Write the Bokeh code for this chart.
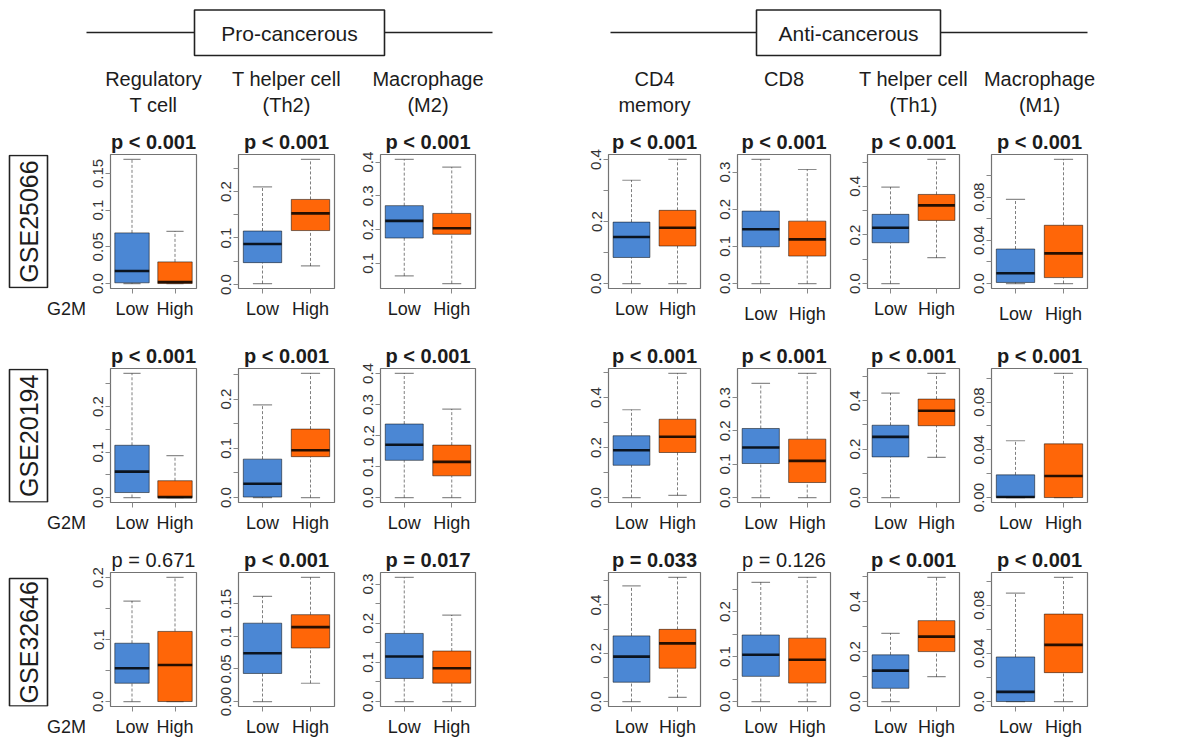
import math
from bokeh.plotting import figure
from bokeh.layouts import row, column
from bokeh.models import ColumnDataSource, FactorRange, Range1d, FixedTicker
from bokeh.transform import dodge
from bokeh.core.properties import value
from bokeh.embed import file_html
from bokeh.resources import INLINE

# ---------------- data ----------------
groups = ["Low", "High"]
group_label = "G2M"
datasets = ["GSE25066", "GSE20194", "GSE32646"]
header_line1 = ["Regulatory", "T helper cell", "Macrophage", "CD4", "CD8", "T helper cell", "Macrophage"]
header_line2 = ["T cell", "(Th2)", "(M2)", "memory", "", "(Th1)", "(M1)"]
group_names = ["Pro-cancerous", "Anti-cancerous"]

# box statistics per cell type: [lower whisker, Q1, median, Q3, upper whisker]
gse25066_low = [
    [0.0, 0.001, 0.017, 0.069, 0.169],
    [0.002, 0.047, 0.087, 0.115, 0.210],
    [0.063, 0.175, 0.226, 0.271, 0.408],
    [0.0, 0.084, 0.150, 0.198, 0.333],
    [0.0, 0.099, 0.146, 0.195, 0.334],
    [0.0, 0.168, 0.230, 0.285, 0.397],
    [0.0, 0.001, 0.0095, 0.032, 0.078],
]
gse25066_high = [
    [0.0, 0.0, 0.002, 0.0295, 0.071],
    [0.040, 0.116, 0.153, 0.183, 0.269],
    [0.040, 0.186, 0.204, 0.248, 0.385],
    [0.0, 0.121, 0.180, 0.236, 0.400],
    [0.0, 0.074, 0.119, 0.168, 0.307],
    [0.107, 0.260, 0.322, 0.367, 0.511],
    [0.0, 0.0055, 0.028, 0.054, 0.115],
]
gse20194_low = [
    [0.0, 0.011, 0.057, 0.115, 0.273],
    [0.0, 0.001, 0.028, 0.078, 0.188],
    [0.0, 0.120, 0.170, 0.237, 0.400],
    [0.0, 0.129, 0.189, 0.247, 0.351],
    [0.0, 0.102, 0.150, 0.207, 0.342],
    [0.0, 0.168, 0.251, 0.299, 0.432],
    [0.0, 0.0, 0.0005, 0.019, 0.0476],
]
gse20194_high = [
    [0.0, 0.0, 0.001, 0.037, 0.092],
    [0.0, 0.083, 0.096, 0.139, 0.252],
    [0.0, 0.070, 0.115, 0.169, 0.285],
    [0.009, 0.180, 0.243, 0.313, 0.496],
    [0.0, 0.045, 0.110, 0.175, 0.372],
    [0.166, 0.297, 0.359, 0.407, 0.513],
    [0.0, 0.0, 0.018, 0.045, 0.104],
]
gse32646_low = [
    [0.0, 0.0295, 0.0536, 0.094, 0.162],
    [0.0, 0.043, 0.074, 0.120, 0.161],
    [0.0, 0.059, 0.115, 0.174, 0.317],
    [0.0, 0.080, 0.186, 0.272, 0.479],
    [0.0, 0.056, 0.104, 0.148, 0.265],
    [0.0, 0.053, 0.124, 0.187, 0.273],
    [0.0, 0.0, 0.008, 0.037, 0.090],
]
gse32646_high = [
    [0.0, 0.0, 0.059, 0.113, 0.200],
    [0.028, 0.082, 0.114, 0.133, 0.190],
    [0.0, 0.047, 0.085, 0.129, 0.221],
    [0.017, 0.138, 0.241, 0.299, 0.514],
    [0.0, 0.041, 0.093, 0.141, 0.276],
    [0.100, 0.200, 0.260, 0.324, 0.497],
    [0.0, 0.024, 0.047, 0.0726, 0.103],
]

gse25066_p = ["p < 0.001"] * 7
gse20194_p = ["p < 0.001"] * 7
gse32646_p = ["p = 0.671", "p < 0.001", "p = 0.017", "p = 0.033", "p = 0.126", "p < 0.001", "p < 0.001"]
gse25066_bold = [True] * 7
gse20194_bold = [True] * 7
gse32646_bold = [False, True, True, True, False, True, True]

gse25066_ticks = [
    [0, 0.05, 0.1, 0.15],
    [0, 0.05, 0.1, 0.15, 0.2, 0.25],
    [0.1, 0.2, 0.3, 0.4],
    [0, 0.1, 0.2, 0.3, 0.4],
    [0, 0.1, 0.2, 0.3],
    [0, 0.1, 0.2, 0.3, 0.4, 0.5],
    [0, 0.02, 0.04, 0.06, 0.08, 0.1, 0.12],
]
gse25066_tick_labels = [
    ["0.0", "0.05", "0.1", "0.15"],
    ["0.0", "", "0.1", "", "0.2", ""],
    ["0.1", "0.2", "0.3", "0.4"],
    ["0.0", "", "0.2", "", "0.4"],
    ["0.0", "0.1", "0.2", "0.3"],
    ["0.0", "", "0.2", "", "0.4", ""],
    ["0.0", "", "0.04", "", "0.08", "", "0.12"],
]
gse20194_ticks = [
    [0, 0.05, 0.1, 0.15, 0.2, 0.25],
    [0, 0.05, 0.1, 0.15, 0.2, 0.25],
    [0, 0.1, 0.2, 0.3, 0.4],
    [0, 0.1, 0.2, 0.3, 0.4, 0.5],
    [0, 0.1, 0.2, 0.3],
    [0, 0.1, 0.2, 0.3, 0.4, 0.5],
    [0, 0.02, 0.04, 0.06, 0.08, 0.1],
]
gse20194_tick_labels = [
    ["0.0", "", "0.1", "", "0.2", ""],
    ["0.0", "", "0.1", "", "0.2", ""],
    ["0.0", "0.1", "0.2", "0.3", "0.4"],
    ["0.0", "", "0.2", "", "0.4", ""],
    ["0.0", "0.1", "0.2", "0.3"],
    ["0.0", "", "0.2", "", "0.4", ""],
    ["0.00", "", "0.04", "", "0.08", ""],
]
gse32646_ticks = [
    [0, 0.05, 0.1, 0.15, 0.2],
    [0, 0.05, 0.1, 0.15],
    [0, 0.05, 0.1, 0.15, 0.2, 0.25, 0.3],
    [0, 0.1, 0.2, 0.3, 0.4, 0.5],
    [0, 0.05, 0.1, 0.15, 0.2, 0.25],
    [0, 0.1, 0.2, 0.3, 0.4, 0.5],
    [0, 0.02, 0.04, 0.06, 0.08, 0.1],
]
gse32646_tick_labels = [
    ["0.0", "", "0.1", "", "0.2"],
    ["0.00", "0.05", "0.1", "0.15"],
    ["0.0", "", "0.1", "", "0.2", "", "0.3"],
    ["0.0", "", "0.2", "", "0.4", ""],
    ["0.0", "", "0.1", "", "0.2", ""],
    ["0.0", "", "0.2", "", "0.4", ""],
    ["0.0", "", "0.04", "", "0.08", ""],
]

rows_data = [
    (gse25066_low, gse25066_high, gse25066_p, gse25066_bold, gse25066_ticks, gse25066_tick_labels),
    (gse20194_low, gse20194_high, gse20194_p, gse20194_bold, gse20194_ticks, gse20194_tick_labels),
    (gse32646_low, gse32646_high, gse32646_p, gse32646_bold, gse32646_ticks, gse32646_tick_labels),
]

# ---------------- style / layout ----------------
FONT = "Liberation Sans"
TXT = "#1c1c1c"
BLUE = "#4b87d4"
ORANGE = "#ff6608"
LEFT_W = 86
HEADER_H = 118
FRAME_W = [86, 96, 95, 92, 93, 92, 96]
LEFT_B = [24, 38, 42, 129, 33, 33, 28]
RIGHT_B = [4, 4, 4, 4, 4, 4, 16]
FRAME_H = 134
TOP_B = [36, 36, 36]
BOT_B = [44, 34, 30]
XLAB_EXTRA = [[0, 0, 0, 0, 5, 0, 5], [0] * 7, [0] * 7]
GSE_BOX = [(37, 169), (37, 169.5), (42, 169.5)]   # in row-local pixel rows
G2M_X = 67
TOTAL_W = LEFT_W + sum(LEFT_B) + sum(FRAME_W) + sum(RIGHT_B)


def style_xaxis(xa, standoff):
    xa.major_label_text_font = FONT
    xa.major_label_text_font_size = "18px"
    xa.major_label_text_color = TXT
    xa.major_label_standoff = standoff
    xa.axis_line_color = None
    xa.major_tick_out = 5
    xa.major_tick_in = 0


def make_panel(r, c, low, high, ptxt, pbold, ticks, labels):
    lo = min(low[0], high[0])
    hi = max(low[4], high[4])
    pad = 0.04 * (hi - lo)
    p = figure(x_range=FactorRange(factors=groups), y_range=Range1d(lo - pad, hi + pad),
               frame_width=FRAME_W[c], frame_height=FRAME_H,
               min_border_left=LEFT_B[c], min_border_right=RIGHT_B[c],
               min_border_top=TOP_B[r], min_border_bottom=BOT_B[r],
               title=ptxt, output_backend="svg", toolbar_location=None,
               background_fill_color="white", border_fill_color="white")
    p.title.text_font = FONT
    p.title.text_font_size = "20px"
    p.title.text_font_style = "bold" if pbold else "normal"
    p.title.text_color = TXT
    p.title.align = "center"
    p.title.standoff = 3
    p.grid.visible = False
    p.outline_line_color = "black"
    p.outline_line_alpha = 0.55
    p.outline_line_width = 1.2

    ya = p.yaxis[0]
    ya.ticker = FixedTicker(ticks=ticks, minor_ticks=[])
    ya.major_label_overrides = {t: l for t, l in zip(ticks, labels)}
    ya.major_label_orientation = "vertical"
    ya.major_label_text_font = FONT
    ya.major_label_text_font_size = "15px"
    ya.major_label_text_color = "#333333"
    ya.major_label_standoff = 2
    ya.axis_line_color = None
    ya.major_tick_out = 5
    ya.major_tick_in = 0
    ya.major_tick_line_color = "#888888"
    ya.minor_tick_line_color = None

    xa = p.xaxis[0]
    style_xaxis(xa, 5 + XLAB_EXTRA[r][c])
    xa.major_tick_line_color = "#888888"

    src = ColumnDataSource(dict(
        g=groups,
        lw=[low[0], high[0]], q1=[low[1], high[1]], md=[low[2], high[2]],
        q3=[low[3], high[3]], uw=[low[4], high[4]], fill=[BLUE, ORANGE]))
    p.segment(x0="g", y0="q3", x1="g", y1="uw", source=src, line_color="black",
              line_alpha=0.5, line_width=1, line_dash="3 2")
    p.segment(x0="g", y0="lw", x1="g", y1="q1", source=src, line_color="black",
              line_alpha=0.5, line_width=1, line_dash="3 2")
    for col in ("uw", "lw"):
        p.segment(x0=dodge("g", -0.2, range=p.x_range), y0=col,
                  x1=dodge("g", 0.2, range=p.x_range), y1=col, source=src,
                  line_color="black", line_alpha=0.45, line_width=1.2)
    p.vbar(x="g", width=0.8, bottom="q1", top="q3", source=src, fill_color="fill",
           line_color="black", line_alpha=0.5, line_width=1)
    p.segment(x0=dodge("g", -0.4, range=p.x_range), y0="md",
              x1=dodge("g", 0.4, range=p.x_range), y1="md", source=src,
              line_color="black", line_alpha=0.85, line_width=2.6)
    return p


def label_fig(r):
    # same vertical structure as the panels, so the "G2M" axis label lines up with Low/High
    f = figure(x_range=Range1d(0, LEFT_W), y_range=Range1d(TOP_B[r] + FRAME_H, TOP_B[r]),
               frame_width=LEFT_W, frame_height=FRAME_H, min_border_left=0, min_border_right=0,
               min_border_top=TOP_B[r], min_border_bottom=BOT_B[r], title=None,
               y_axis_type=None, output_backend="svg", toolbar_location=None,
               outline_line_color=None, background_fill_color="white", border_fill_color="white")
    f.grid.visible = False
    xa = f.xaxis[0]
    xa.ticker = FixedTicker(ticks=[G2M_X], minor_ticks=[])
    xa.major_label_overrides = {G2M_X: group_label}
    style_xaxis(xa, 5)
    xa.major_tick_line_color = "white"
    xa.minor_tick_line_color = None
    t0, t1 = GSE_BOX[r]
    f.quad(left=[9], right=[47], top=[t0], bottom=[t1], fill_color=None,
           line_color="#222222", line_width=1.6)
    f.text(x=[28.5], y=[(t0 + t1) / 2], text=[datasets[r]], angle=math.pi / 2,
           text_align="center", text_baseline="middle", text_font=value(FONT),
           text_font_size=value("25px"), text_color=TXT)
    return f


# ---------------- header ----------------
hdr = figure(width=TOTAL_W, height=HEADER_H, x_range=Range1d(0, TOTAL_W),
             y_range=Range1d(HEADER_H, 0), x_axis_type=None, y_axis_type=None,
             min_border=0, title=None, output_backend="svg", toolbar_location=None,
             outline_line_color=None, background_fill_color="white", border_fill_color="white")
hdr.grid.visible = False

centers = []
x = LEFT_W
for c in range(7):
    x += LEFT_B[c]
    centers.append(x + FRAME_W[c] / 2)
    x += FRAME_W[c] + RIGHT_B[c]

hdr.text(x=centers, y=[78] * 7, text=header_line1, text_align="center", text_baseline="middle",
         text_font=value(FONT), text_font_size=value("20px"), text_color=TXT)
hdr.text(x=centers, y=[104] * 7, text=header_line2, text_align="center", text_baseline="middle",
         text_font=value(FONT), text_font_size=value("20px"), text_color=TXT)

grp_lines = [(86, 194, 384, 492), (610, 756, 940, 1087)]
for name, (l0, b0, b1, l1) in zip(group_names, grp_lines):
    hdr.segment(x0=[l0, b1], y0=[32, 32], x1=[b0, l1], y1=[32, 32], line_color="#222222", line_width=1.6)
    hdr.quad(left=[b0], right=[b1], top=[9.5], bottom=[55], fill_color="white",
             line_color="#222222", line_width=1.6)
    hdr.text(x=[(b0 + b1) / 2], y=[33], text=[name], text_align="center", text_baseline="middle",
             text_font=value(FONT), text_font_size=value("21px"), text_color=TXT)

# ---------------- rows ----------------
row_layouts = []
for r, (lows, highs, ps, bolds, tks, tls) in enumerate(rows_data):
    panels = [make_panel(r, c, lows[c], highs[c], ps[c], bolds[c], tks[c], tls[c]) for c in range(7)]
    row_layouts.append(row([label_fig(r)] + panels, spacing=0))

page = column([hdr] + row_layouts, spacing=0)

with open("out.html", "w") as f:
    f.write(file_html(page, INLINE))
